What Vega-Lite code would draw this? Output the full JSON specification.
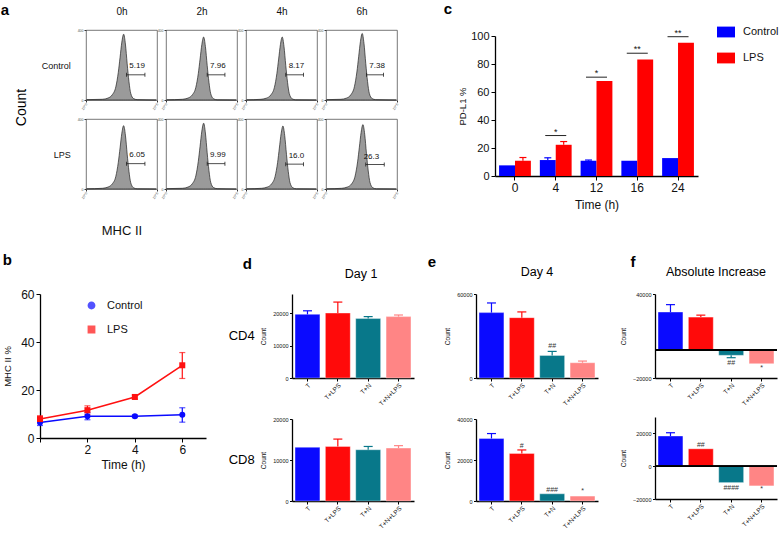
{
"$schema":"https://vega.github.io/schema/vega-lite/v6.json",
"background":"white",
"padding":{"left":0,"top":0,"right":0,"bottom":0},
"datasets":{
"spacer":[{"s":0}],
"hist":[
{"g":"Control","t":"0h","x":1,"y":2},{"g":"Control","t":"0h","x":23,"y":4},{"g":"Control","t":"0h","x":31,"y":11},{"g":"Control","t":"0h","x":37,"y":30},{"g":"Control","t":"0h","x":42,"y":75},{"g":"Control","t":"0h","x":45.5,"y":158},{"g":"Control","t":"0h","x":48,"y":244},{"g":"Control","t":"0h","x":50.5,"y":331},{"g":"Control","t":"0h","x":53,"y":376},{"g":"Control","t":"0h","x":55.5,"y":320},{"g":"Control","t":"0h","x":58,"y":207},{"g":"Control","t":"0h","x":60.5,"y":105},{"g":"Control","t":"0h","x":63,"y":38},{"g":"Control","t":"0h","x":67,"y":8},{"g":"Control","t":"0h","x":72,"y":2},{"g":"Control","t":"0h","x":99,"y":0},
{"g":"Control","t":"2h","x":1,"y":1},{"g":"Control","t":"2h","x":23,"y":4},{"g":"Control","t":"2h","x":31,"y":11},{"g":"Control","t":"2h","x":37,"y":29},{"g":"Control","t":"2h","x":42,"y":72},{"g":"Control","t":"2h","x":45.5,"y":151},{"g":"Control","t":"2h","x":48,"y":234},{"g":"Control","t":"2h","x":50.5,"y":317},{"g":"Control","t":"2h","x":53,"y":360},{"g":"Control","t":"2h","x":55.5,"y":306},{"g":"Control","t":"2h","x":58,"y":198},{"g":"Control","t":"2h","x":60.5,"y":101},{"g":"Control","t":"2h","x":63,"y":36},{"g":"Control","t":"2h","x":67,"y":7},{"g":"Control","t":"2h","x":72,"y":1},{"g":"Control","t":"2h","x":99,"y":0},
{"g":"Control","t":"4h","x":1,"y":1},{"g":"Control","t":"4h","x":21,"y":4},{"g":"Control","t":"4h","x":29,"y":11},{"g":"Control","t":"4h","x":35,"y":29},{"g":"Control","t":"4h","x":40,"y":72},{"g":"Control","t":"4h","x":43.5,"y":151},{"g":"Control","t":"4h","x":46,"y":234},{"g":"Control","t":"4h","x":48.5,"y":317},{"g":"Control","t":"4h","x":51,"y":360},{"g":"Control","t":"4h","x":53.5,"y":306},{"g":"Control","t":"4h","x":56,"y":198},{"g":"Control","t":"4h","x":58.5,"y":101},{"g":"Control","t":"4h","x":61,"y":36},{"g":"Control","t":"4h","x":65,"y":7},{"g":"Control","t":"4h","x":70,"y":1},{"g":"Control","t":"4h","x":99,"y":0},
{"g":"Control","t":"6h","x":1,"y":2},{"g":"Control","t":"6h","x":21,"y":4},{"g":"Control","t":"6h","x":29,"y":11},{"g":"Control","t":"6h","x":35,"y":30},{"g":"Control","t":"6h","x":40,"y":76},{"g":"Control","t":"6h","x":43.5,"y":160},{"g":"Control","t":"6h","x":46,"y":247},{"g":"Control","t":"6h","x":48.5,"y":334},{"g":"Control","t":"6h","x":51,"y":380},{"g":"Control","t":"6h","x":53.5,"y":323},{"g":"Control","t":"6h","x":56,"y":209},{"g":"Control","t":"6h","x":58.5,"y":106},{"g":"Control","t":"6h","x":61,"y":38},{"g":"Control","t":"6h","x":65,"y":8},{"g":"Control","t":"6h","x":70,"y":2},{"g":"Control","t":"6h","x":99,"y":0},
{"g":"LPS","t":"0h","x":1,"y":1},{"g":"LPS","t":"0h","x":23,"y":4},{"g":"LPS","t":"0h","x":31,"y":11},{"g":"LPS","t":"0h","x":37,"y":29},{"g":"LPS","t":"0h","x":42,"y":72},{"g":"LPS","t":"0h","x":45.5,"y":152},{"g":"LPS","t":"0h","x":48,"y":235},{"g":"LPS","t":"0h","x":50.5,"y":319},{"g":"LPS","t":"0h","x":53,"y":362},{"g":"LPS","t":"0h","x":55.5,"y":308},{"g":"LPS","t":"0h","x":58,"y":199},{"g":"LPS","t":"0h","x":60.5,"y":101},{"g":"LPS","t":"0h","x":63,"y":36},{"g":"LPS","t":"0h","x":67,"y":7},{"g":"LPS","t":"0h","x":72,"y":1},{"g":"LPS","t":"0h","x":99,"y":0},
{"g":"LPS","t":"2h","x":1,"y":2},{"g":"LPS","t":"2h","x":23,"y":4},{"g":"LPS","t":"2h","x":31,"y":11},{"g":"LPS","t":"2h","x":37,"y":30},{"g":"LPS","t":"2h","x":42,"y":75},{"g":"LPS","t":"2h","x":45.5,"y":158},{"g":"LPS","t":"2h","x":48,"y":244},{"g":"LPS","t":"2h","x":50.5,"y":331},{"g":"LPS","t":"2h","x":53,"y":376},{"g":"LPS","t":"2h","x":55.5,"y":320},{"g":"LPS","t":"2h","x":58,"y":207},{"g":"LPS","t":"2h","x":60.5,"y":105},{"g":"LPS","t":"2h","x":63,"y":38},{"g":"LPS","t":"2h","x":67,"y":8},{"g":"LPS","t":"2h","x":72,"y":2},{"g":"LPS","t":"2h","x":99,"y":0},
{"g":"LPS","t":"4h","x":1,"y":1},{"g":"LPS","t":"4h","x":22,"y":4},{"g":"LPS","t":"4h","x":30,"y":11},{"g":"LPS","t":"4h","x":36,"y":29},{"g":"LPS","t":"4h","x":41,"y":72},{"g":"LPS","t":"4h","x":44.5,"y":151},{"g":"LPS","t":"4h","x":47,"y":234},{"g":"LPS","t":"4h","x":49.5,"y":317},{"g":"LPS","t":"4h","x":52,"y":360},{"g":"LPS","t":"4h","x":54.5,"y":306},{"g":"LPS","t":"4h","x":57,"y":198},{"g":"LPS","t":"4h","x":59.5,"y":101},{"g":"LPS","t":"4h","x":62,"y":36},{"g":"LPS","t":"4h","x":66,"y":7},{"g":"LPS","t":"4h","x":71,"y":1},{"g":"LPS","t":"4h","x":99,"y":0},
{"g":"LPS","t":"6h","x":1,"y":1},{"g":"LPS","t":"6h","x":22,"y":4},{"g":"LPS","t":"6h","x":30,"y":11},{"g":"LPS","t":"6h","x":36,"y":29},{"g":"LPS","t":"6h","x":41,"y":74},{"g":"LPS","t":"6h","x":44.5,"y":155},{"g":"LPS","t":"6h","x":47,"y":239},{"g":"LPS","t":"6h","x":49.5,"y":324},{"g":"LPS","t":"6h","x":52,"y":368},{"g":"LPS","t":"6h","x":54.5,"y":313},{"g":"LPS","t":"6h","x":57,"y":202},{"g":"LPS","t":"6h","x":59.5,"y":103},{"g":"LPS","t":"6h","x":62,"y":37},{"g":"LPS","t":"6h","x":66,"y":7},{"g":"LPS","t":"6h","x":71,"y":1},{"g":"LPS","t":"6h","x":99,"y":0},
{"g":"Control","t":"0h","x":57,"x2":83,"y":144,"xm":72,"ly":192,"lab":"5.19"},
{"g":"Control","t":"2h","x":58,"x2":83,"y":144,"xm":73,"ly":192,"lab":"7.96"},
{"g":"Control","t":"4h","x":56,"x2":81,"y":144,"xm":71,"ly":192,"lab":"8.17"},
{"g":"Control","t":"6h","x":57,"x2":81,"y":144,"xm":72,"ly":192,"lab":"7.38"},
{"g":"LPS","t":"0h","x":57,"x2":83,"y":145,"xm":72,"ly":192,"lab":"6.05"},
{"g":"LPS","t":"2h","x":58,"x2":83,"y":145,"xm":73,"ly":192,"lab":"9.99"},
{"g":"LPS","t":"4h","x":56,"x2":81,"y":142,"xm":71,"ly":190,"lab":"16.0"},
{"g":"LPS","t":"6h","x":56,"x2":82,"y":140,"xm":64,"ly":184,"lab":"26.3"}
],
"pdl1":[
{"t":0,"grp":"Control","v":7.6},{"t":0,"grp":"LPS","v":10.9,"e":13.2},
{"t":4,"grp":"Control","v":11.4,"e":13.0},{"t":4,"grp":"LPS","v":22.3,"e":24.6},
{"t":12,"grp":"Control","v":10.9,"e":11.4},{"t":12,"grp":"LPS","v":67.8},
{"t":16,"grp":"Control","v":10.9},{"t":16,"grp":"LPS","v":83.2},
{"t":24,"grp":"Control","v":12.8},{"t":24,"grp":"LPS","v":95.2}
],
"pdl1sig":[{"t":4,"y":28.9,"s":"*"},{"t":12,"y":70.6,"s":"*"},{"t":16,"y":87.7,"s":"**"},{"t":24,"y":99.5,"s":"**"}],
"mhc":[
{"t":0,"grp":"Control","v":6.5,"lo":5.2,"hi":7.6},{"t":2,"grp":"Control","v":9.1,"lo":7.6,"hi":10.5},{"t":4,"grp":"Control","v":9.1,"lo":8.5,"hi":9.6},{"t":6,"grp":"Control","v":9.7,"lo":6.6,"hi":12.6},
{"t":0,"grp":"LPS","v":7.9,"lo":6.8,"hi":9.3},{"t":2,"grp":"LPS","v":11.6,"lo":9.8,"hi":13.4},{"t":4,"grp":"LPS","v":17.1,"lo":16.2,"hi":17.9},{"t":6,"grp":"LPS","v":30.3,"lo":24.8,"hi":35.6}
],
"d4":[{"c":"T","v":19700,"e":20800},{"c":"T+LPS","v":20100,"e":23500},{"c":"T+N","v":18400,"e":19000},{"c":"T+N+LPS","v":19000,"e":19500}],
"d8":[{"c":"T","v":13100},{"c":"T+LPS","v":13300,"e":15100},{"c":"T+N","v":12500,"e":13300},{"c":"T+N+LPS","v":12900,"e":13500}],
"e4":[{"c":"T","v":46700,"e":53600},{"c":"T+LPS","v":43100,"e":47200},{"c":"T+N","v":16100,"e":19000,"s":"##","sy":23000},{"c":"T+N+LPS","v":10900,"e":12100}],
"e8":[{"c":"T","v":30500,"e":32900},{"c":"T+LPS","v":23200,"e":24900,"s":"#","sy":27000},{"c":"T+N","v":3500,"s":"###","sy":5600},{"c":"T+N+LPS","v":2400,"s":"*","sy":4800}],
"f4":[{"c":"T","v":27100,"e":32400},{"c":"T+LPS","v":23500,"e":24900},{"c":"T+N","v":-3800,"e":-5500,"s":"##","sy":-9400},{"c":"T+N+LPS","v":-9800,"s":"*","sy":-12700}],
"f8":[{"c":"T","v":18400,"e":20400},{"c":"T+LPS","v":10600,"s":"##","sy":13000},{"c":"T+N","v":-10000,"s":"####","sy":-13000},{"c":"T+N+LPS","v":-12000,"s":"*","sy":-14000}]
},
"resolve":{"scale":{"color":"independent","shape":"independent"},"legend":{"color":"independent","shape":"independent"}},
"columns":1,"spacing":15,
"concat":[
{"resolve":{"scale":{"color":"independent","shape":"independent"},"legend":{"color":"independent","shape":"independent"}},
"columns":2,"spacing":-7,
"concat":[
{"data":{"name":"spacer"},"width":1,"height":1,"mark":{"type":"point","opacity":0},"encoding":{}},
{"columns":2,"spacing":44,
"resolve":{"scale":{"color":"independent","shape":"independent"},"legend":{"color":"independent","shape":"independent"}},
"concat":[
{"spacing":-5,"vconcat":[
{"data":{"name":"spacer"},"width":1,"height":1,"mark":{"type":"point","opacity":0},"encoding":{}},
{
"title":{"text":"a","anchor":"start","fontSize":15,"offset":-12,"dx":-14},
"columns":4,"bounds":"flush","spacing":{"row":19,"column":9},
"concat":[
{"data":{"name":"hist"},"transform":[{"filter":"datum.g == 'Control' && datum.t == '0h'"}],"width":71,"height":70,
"view":{"stroke":"#555","strokeWidth":0.8},
"title":{"text":"Count","orient":"left","anchor":"start","fontSize":14,"fontWeight":"normal","offset":12,"dx":-16},
"resolve":{"axis":{"x":"independent"}},
"layer":[
{"layer":[
{"transform":[{"filter":"datum.lab == null"}],"mark":{"type":"area","interpolate":"monotone","color":"#9a9a9a","stroke":"#222","strokeWidth":0.7},
"encoding":{"x":{"field":"x","type":"quantitative","scale":{"domain":[0,100]},"axis":{"title":null,"values":[0,20,40,60,80,100],"labelExpr":"'10^' + round(datum.value/20)","labelFontSize":3.5,"labelAngle":-60,"tickSize":2,"domain":false,"labelPadding":1,"tickColor":"#333","labelColor":"#555"}},
"y":{"field":"y","type":"quantitative","scale":{"domain":[0,400]},"axis":{"title":"Control","titleAngle":0,"titleAlign":"right","titleBaseline":"middle","titleFontSize":9,"titlePadding":7,"values":[0,100,200,300,400],"labelFontSize":3.5,"tickSize":2,"domain":false,"labelPadding":1,"minExtent":0,"tickColor":"#333","labelColor":"#555"}}}},
{"transform":[{"filter":"datum.lab != null"}],"mark":{"type":"rule","color":"#222","strokeWidth":0.8},"encoding":{"x":{"field":"x","type":"quantitative"},"x2":{"field":"x2"},"y":{"field":"y","type":"quantitative"}}},
{"transform":[{"filter":"datum.lab != null"}],"mark":{"type":"tick","orient":"vertical","size":4,"thickness":0.8,"color":"#222","opacity":1},"encoding":{"x":{"field":"x","type":"quantitative"},"y":{"field":"y","type":"quantitative"}}},
{"transform":[{"filter":"datum.lab != null"}],"mark":{"type":"tick","orient":"vertical","size":4,"thickness":0.8,"color":"#222","opacity":1},"encoding":{"x":{"field":"x2","type":"quantitative"},"y":{"field":"y","type":"quantitative"}}}
]},
{"transform":[{"filter":"datum.lab != null"}],"mark":{"type":"text","fontSize":8,"color":"#111"},"encoding":{"x":{"field":"xm","type":"quantitative","axis":{"orient":"top","title":"0h","labels":false,"ticks":false,"domain":false,"titleFontSize":10,"titleFontWeight":"normal","titlePadding":14}},"y":{"field":"ly","type":"quantitative"},"text":{"field":"lab"}}}
]},
{"data":{"name":"hist"},"transform":[{"filter":"datum.g == 'Control' && datum.t == '2h'"}],"width":71,"height":70,
"view":{"stroke":"#555","strokeWidth":0.8},
"resolve":{"axis":{"x":"independent"}},
"layer":[
{"layer":[
{"transform":[{"filter":"datum.lab == null"}],"mark":{"type":"area","interpolate":"monotone","color":"#9a9a9a","stroke":"#222","strokeWidth":0.7},
"encoding":{"x":{"field":"x","type":"quantitative","scale":{"domain":[0,100]},"axis":{"title":null,"values":[0,20,40,60,80,100],"labelExpr":"'10^' + round(datum.value/20)","labelFontSize":3.5,"labelAngle":-60,"tickSize":2,"domain":false,"labelPadding":1,"tickColor":"#333","labelColor":"#555"}},
"y":{"field":"y","type":"quantitative","scale":{"domain":[0,400]},"axis":{"title":null,"values":[0,100,200,300,400],"labelFontSize":3.5,"tickSize":2,"domain":false,"labelPadding":1,"minExtent":0,"tickColor":"#333","labelColor":"#555"}}}},
{"transform":[{"filter":"datum.lab != null"}],"mark":{"type":"rule","color":"#222","strokeWidth":0.8},"encoding":{"x":{"field":"x","type":"quantitative"},"x2":{"field":"x2"},"y":{"field":"y","type":"quantitative"}}},
{"transform":[{"filter":"datum.lab != null"}],"mark":{"type":"tick","orient":"vertical","size":4,"thickness":0.8,"color":"#222","opacity":1},"encoding":{"x":{"field":"x","type":"quantitative"},"y":{"field":"y","type":"quantitative"}}},
{"transform":[{"filter":"datum.lab != null"}],"mark":{"type":"tick","orient":"vertical","size":4,"thickness":0.8,"color":"#222","opacity":1},"encoding":{"x":{"field":"x2","type":"quantitative"},"y":{"field":"y","type":"quantitative"}}}
]},
{"transform":[{"filter":"datum.lab != null"}],"mark":{"type":"text","fontSize":8,"color":"#111"},"encoding":{"x":{"field":"xm","type":"quantitative","axis":{"orient":"top","title":"2h","labels":false,"ticks":false,"domain":false,"titleFontSize":10,"titleFontWeight":"normal","titlePadding":14}},"y":{"field":"ly","type":"quantitative"},"text":{"field":"lab"}}}
]},
{"data":{"name":"hist"},"transform":[{"filter":"datum.g == 'Control' && datum.t == '4h'"}],"width":71,"height":70,
"view":{"stroke":"#555","strokeWidth":0.8},
"resolve":{"axis":{"x":"independent"}},
"layer":[
{"layer":[
{"transform":[{"filter":"datum.lab == null"}],"mark":{"type":"area","interpolate":"monotone","color":"#9a9a9a","stroke":"#222","strokeWidth":0.7},
"encoding":{"x":{"field":"x","type":"quantitative","scale":{"domain":[0,100]},"axis":{"title":null,"values":[0,20,40,60,80,100],"labelExpr":"'10^' + round(datum.value/20)","labelFontSize":3.5,"labelAngle":-60,"tickSize":2,"domain":false,"labelPadding":1,"tickColor":"#333","labelColor":"#555"}},
"y":{"field":"y","type":"quantitative","scale":{"domain":[0,400]},"axis":{"title":null,"values":[0,100,200,300,400],"labelFontSize":3.5,"tickSize":2,"domain":false,"labelPadding":1,"minExtent":0,"tickColor":"#333","labelColor":"#555"}}}},
{"transform":[{"filter":"datum.lab != null"}],"mark":{"type":"rule","color":"#222","strokeWidth":0.8},"encoding":{"x":{"field":"x","type":"quantitative"},"x2":{"field":"x2"},"y":{"field":"y","type":"quantitative"}}},
{"transform":[{"filter":"datum.lab != null"}],"mark":{"type":"tick","orient":"vertical","size":4,"thickness":0.8,"color":"#222","opacity":1},"encoding":{"x":{"field":"x","type":"quantitative"},"y":{"field":"y","type":"quantitative"}}},
{"transform":[{"filter":"datum.lab != null"}],"mark":{"type":"tick","orient":"vertical","size":4,"thickness":0.8,"color":"#222","opacity":1},"encoding":{"x":{"field":"x2","type":"quantitative"},"y":{"field":"y","type":"quantitative"}}}
]},
{"transform":[{"filter":"datum.lab != null"}],"mark":{"type":"text","fontSize":8,"color":"#111"},"encoding":{"x":{"field":"xm","type":"quantitative","axis":{"orient":"top","title":"4h","labels":false,"ticks":false,"domain":false,"titleFontSize":10,"titleFontWeight":"normal","titlePadding":14}},"y":{"field":"ly","type":"quantitative"},"text":{"field":"lab"}}}
]},
{"data":{"name":"hist"},"transform":[{"filter":"datum.g == 'Control' && datum.t == '6h'"}],"width":71,"height":70,
"view":{"stroke":"#555","strokeWidth":0.8},
"resolve":{"axis":{"x":"independent"}},
"layer":[
{"layer":[
{"transform":[{"filter":"datum.lab == null"}],"mark":{"type":"area","interpolate":"monotone","color":"#9a9a9a","stroke":"#222","strokeWidth":0.7},
"encoding":{"x":{"field":"x","type":"quantitative","scale":{"domain":[0,100]},"axis":{"title":null,"values":[0,20,40,60,80,100],"labelExpr":"'10^' + round(datum.value/20)","labelFontSize":3.5,"labelAngle":-60,"tickSize":2,"domain":false,"labelPadding":1,"tickColor":"#333","labelColor":"#555"}},
"y":{"field":"y","type":"quantitative","scale":{"domain":[0,400]},"axis":{"title":null,"values":[0,100,200,300,400],"labelFontSize":3.5,"tickSize":2,"domain":false,"labelPadding":1,"minExtent":0,"tickColor":"#333","labelColor":"#555"}}}},
{"transform":[{"filter":"datum.lab != null"}],"mark":{"type":"rule","color":"#222","strokeWidth":0.8},"encoding":{"x":{"field":"x","type":"quantitative"},"x2":{"field":"x2"},"y":{"field":"y","type":"quantitative"}}},
{"transform":[{"filter":"datum.lab != null"}],"mark":{"type":"tick","orient":"vertical","size":4,"thickness":0.8,"color":"#222","opacity":1},"encoding":{"x":{"field":"x","type":"quantitative"},"y":{"field":"y","type":"quantitative"}}},
{"transform":[{"filter":"datum.lab != null"}],"mark":{"type":"tick","orient":"vertical","size":4,"thickness":0.8,"color":"#222","opacity":1},"encoding":{"x":{"field":"x2","type":"quantitative"},"y":{"field":"y","type":"quantitative"}}}
]},
{"transform":[{"filter":"datum.lab != null"}],"mark":{"type":"text","fontSize":8,"color":"#111"},"encoding":{"x":{"field":"xm","type":"quantitative","axis":{"orient":"top","title":"6h","labels":false,"ticks":false,"domain":false,"titleFontSize":10,"titleFontWeight":"normal","titlePadding":14}},"y":{"field":"ly","type":"quantitative"},"text":{"field":"lab"}}}
]},
{"data":{"name":"hist"},"transform":[{"filter":"datum.g == 'LPS' && datum.t == '0h'"}],"width":71,"height":70,
"view":{"stroke":"#555","strokeWidth":0.8},
"layer":[
{"transform":[{"filter":"datum.lab == null"}],"mark":{"type":"area","interpolate":"monotone","color":"#9a9a9a","stroke":"#222","strokeWidth":0.7},
"encoding":{"x":{"field":"x","type":"quantitative","scale":{"domain":[0,100]},"axis":{"title":"MHC II","titleFontSize":13,"titleFontWeight":"normal","titlePadding":25,"values":[0,20,40,60,80,100],"labelExpr":"'10^' + round(datum.value/20)","labelFontSize":3.5,"labelAngle":-60,"tickSize":2,"domain":false,"labelPadding":1,"tickColor":"#333","labelColor":"#555"}},
"y":{"field":"y","type":"quantitative","scale":{"domain":[0,400]},"axis":{"title":"LPS","titleAngle":0,"titleAlign":"right","titleBaseline":"middle","titleFontSize":9,"titlePadding":7,"values":[0,100,200,300,400],"labelFontSize":3.5,"tickSize":2,"domain":false,"labelPadding":1,"minExtent":0,"tickColor":"#333","labelColor":"#555"}}}},
{"transform":[{"filter":"datum.lab != null"}],"mark":{"type":"rule","color":"#222","strokeWidth":0.8},"encoding":{"x":{"field":"x","type":"quantitative"},"x2":{"field":"x2"},"y":{"field":"y","type":"quantitative"}}},
{"transform":[{"filter":"datum.lab != null"}],"mark":{"type":"tick","orient":"vertical","size":4,"thickness":0.8,"color":"#222","opacity":1},"encoding":{"x":{"field":"x","type":"quantitative"},"y":{"field":"y","type":"quantitative"}}},
{"transform":[{"filter":"datum.lab != null"}],"mark":{"type":"tick","orient":"vertical","size":4,"thickness":0.8,"color":"#222","opacity":1},"encoding":{"x":{"field":"x2","type":"quantitative"},"y":{"field":"y","type":"quantitative"}}},
{"transform":[{"filter":"datum.lab != null"}],"mark":{"type":"text","fontSize":8,"color":"#111"},"encoding":{"x":{"field":"xm","type":"quantitative"},"y":{"field":"ly","type":"quantitative"},"text":{"field":"lab"}}}
]},
{"data":{"name":"hist"},"transform":[{"filter":"datum.g == 'LPS' && datum.t == '2h'"}],"width":71,"height":70,
"view":{"stroke":"#555","strokeWidth":0.8},
"layer":[
{"transform":[{"filter":"datum.lab == null"}],"mark":{"type":"area","interpolate":"monotone","color":"#9a9a9a","stroke":"#222","strokeWidth":0.7},
"encoding":{"x":{"field":"x","type":"quantitative","scale":{"domain":[0,100]},"axis":{"title":null,"values":[0,20,40,60,80,100],"labelExpr":"'10^' + round(datum.value/20)","labelFontSize":3.5,"labelAngle":-60,"tickSize":2,"domain":false,"labelPadding":1,"tickColor":"#333","labelColor":"#555"}},
"y":{"field":"y","type":"quantitative","scale":{"domain":[0,400]},"axis":{"title":null,"values":[0,100,200,300,400],"labelFontSize":3.5,"tickSize":2,"domain":false,"labelPadding":1,"minExtent":0,"tickColor":"#333","labelColor":"#555"}}}},
{"transform":[{"filter":"datum.lab != null"}],"mark":{"type":"rule","color":"#222","strokeWidth":0.8},"encoding":{"x":{"field":"x","type":"quantitative"},"x2":{"field":"x2"},"y":{"field":"y","type":"quantitative"}}},
{"transform":[{"filter":"datum.lab != null"}],"mark":{"type":"tick","orient":"vertical","size":4,"thickness":0.8,"color":"#222","opacity":1},"encoding":{"x":{"field":"x","type":"quantitative"},"y":{"field":"y","type":"quantitative"}}},
{"transform":[{"filter":"datum.lab != null"}],"mark":{"type":"tick","orient":"vertical","size":4,"thickness":0.8,"color":"#222","opacity":1},"encoding":{"x":{"field":"x2","type":"quantitative"},"y":{"field":"y","type":"quantitative"}}},
{"transform":[{"filter":"datum.lab != null"}],"mark":{"type":"text","fontSize":8,"color":"#111"},"encoding":{"x":{"field":"xm","type":"quantitative"},"y":{"field":"ly","type":"quantitative"},"text":{"field":"lab"}}}
]},
{"data":{"name":"hist"},"transform":[{"filter":"datum.g == 'LPS' && datum.t == '4h'"}],"width":71,"height":70,
"view":{"stroke":"#555","strokeWidth":0.8},
"layer":[
{"transform":[{"filter":"datum.lab == null"}],"mark":{"type":"area","interpolate":"monotone","color":"#9a9a9a","stroke":"#222","strokeWidth":0.7},
"encoding":{"x":{"field":"x","type":"quantitative","scale":{"domain":[0,100]},"axis":{"title":null,"values":[0,20,40,60,80,100],"labelExpr":"'10^' + round(datum.value/20)","labelFontSize":3.5,"labelAngle":-60,"tickSize":2,"domain":false,"labelPadding":1,"tickColor":"#333","labelColor":"#555"}},
"y":{"field":"y","type":"quantitative","scale":{"domain":[0,400]},"axis":{"title":null,"values":[0,100,200,300,400],"labelFontSize":3.5,"tickSize":2,"domain":false,"labelPadding":1,"minExtent":0,"tickColor":"#333","labelColor":"#555"}}}},
{"transform":[{"filter":"datum.lab != null"}],"mark":{"type":"rule","color":"#222","strokeWidth":0.8},"encoding":{"x":{"field":"x","type":"quantitative"},"x2":{"field":"x2"},"y":{"field":"y","type":"quantitative"}}},
{"transform":[{"filter":"datum.lab != null"}],"mark":{"type":"tick","orient":"vertical","size":4,"thickness":0.8,"color":"#222","opacity":1},"encoding":{"x":{"field":"x","type":"quantitative"},"y":{"field":"y","type":"quantitative"}}},
{"transform":[{"filter":"datum.lab != null"}],"mark":{"type":"tick","orient":"vertical","size":4,"thickness":0.8,"color":"#222","opacity":1},"encoding":{"x":{"field":"x2","type":"quantitative"},"y":{"field":"y","type":"quantitative"}}},
{"transform":[{"filter":"datum.lab != null"}],"mark":{"type":"text","fontSize":8,"color":"#111"},"encoding":{"x":{"field":"xm","type":"quantitative"},"y":{"field":"ly","type":"quantitative"},"text":{"field":"lab"}}}
]},
{"data":{"name":"hist"},"transform":[{"filter":"datum.g == 'LPS' && datum.t == '6h'"}],"width":71,"height":70,
"view":{"stroke":"#555","strokeWidth":0.8},
"layer":[
{"transform":[{"filter":"datum.lab == null"}],"mark":{"type":"area","interpolate":"monotone","color":"#9a9a9a","stroke":"#222","strokeWidth":0.7},
"encoding":{"x":{"field":"x","type":"quantitative","scale":{"domain":[0,100]},"axis":{"title":null,"values":[0,20,40,60,80,100],"labelExpr":"'10^' + round(datum.value/20)","labelFontSize":3.5,"labelAngle":-60,"tickSize":2,"domain":false,"labelPadding":1,"tickColor":"#333","labelColor":"#555"}},
"y":{"field":"y","type":"quantitative","scale":{"domain":[0,400]},"axis":{"title":null,"values":[0,100,200,300,400],"labelFontSize":3.5,"tickSize":2,"domain":false,"labelPadding":1,"minExtent":0,"tickColor":"#333","labelColor":"#555"}}}},
{"transform":[{"filter":"datum.lab != null"}],"mark":{"type":"rule","color":"#222","strokeWidth":0.8},"encoding":{"x":{"field":"x","type":"quantitative"},"x2":{"field":"x2"},"y":{"field":"y","type":"quantitative"}}},
{"transform":[{"filter":"datum.lab != null"}],"mark":{"type":"tick","orient":"vertical","size":4,"thickness":0.8,"color":"#222","opacity":1},"encoding":{"x":{"field":"x","type":"quantitative"},"y":{"field":"y","type":"quantitative"}}},
{"transform":[{"filter":"datum.lab != null"}],"mark":{"type":"tick","orient":"vertical","size":4,"thickness":0.8,"color":"#222","opacity":1},"encoding":{"x":{"field":"x2","type":"quantitative"},"y":{"field":"y","type":"quantitative"}}},
{"transform":[{"filter":"datum.lab != null"}],"mark":{"type":"text","fontSize":8,"color":"#111"},"encoding":{"x":{"field":"xm","type":"quantitative"},"y":{"field":"ly","type":"quantitative"},"text":{"field":"lab"}}}
]}
]
}
]},
{"spacing":-5,
"resolve":{"scale":{"color":"independent","shape":"independent"},"legend":{"color":"independent","shape":"independent"}},
"vconcat":[
{"data":{"name":"spacer"},"width":1,"height":1,"mark":{"type":"point","opacity":0},"encoding":{}},
{
"title":{"text":"c","anchor":"start","fontSize":15,"offset":6,"dx":-14},
"width":203,"height":140,
"layer":[
{"data":{"name":"pdl1"},
"mark":{"type":"bar"},
"encoding":{
"x":{"field":"t","type":"ordinal","sort":[0,4,12,16,24],"scale":{"paddingInner":0.22,"paddingOuter":0.1},"axis":{"title":"Time (h)","labelAngle":0,"labelFontSize":12,"titleFontSize":12,"tickSize":4,"domainWidth":1.3,"titlePadding":6}},
"xOffset":{"field":"grp","type":"nominal","sort":["Control","LPS"]},
"y":{"field":"v","type":"quantitative","scale":{"domain":[0,100]},"axis":{"title":"PD-L1 %","values":[0,20,40,60,80,100],"labelOverlap":false,"labelFontSize":11,"titleFontSize":9.5,"tickSize":4,"domainWidth":1.3,"titlePadding":3,"minExtent":0}},
"color":{"field":"grp","type":"nominal","scale":{"domain":["Control","LPS"],"range":["#0000ff","#ff0000"]},"legend":{"title":null,"orient":"none","legendX":222,"legendY":-13,"symbolType":"M-1,-0.6H1V0.6H-1Z","symbolSize":324,"labelFontSize":11,"rowPadding":11,"labelOffset":8,"symbolStrokeWidth":0,"symbolOpacity":1}}
}},
{"data":{"name":"pdl1"},"transform":[{"filter":"datum.e != null"}],
"mark":{"type":"rule","strokeWidth":1.2},
"encoding":{"x":{"field":"t","type":"ordinal","sort":[0,4,12,16,24],"axis":{"title":"Time (h)","labelAngle":0,"labelFontSize":12,"titleFontSize":12,"tickSize":4,"domainWidth":1.3,"titlePadding":6}},"xOffset":{"field":"grp","type":"nominal","sort":["Control","LPS"]},"y":{"field":"v","type":"quantitative","axis":{"title":"PD-L1 %","values":[0,20,40,60,80,100],"labelOverlap":false,"labelFontSize":11,"titleFontSize":9.5,"tickSize":4,"domainWidth":1.3,"titlePadding":3,"minExtent":0}},"y2":{"field":"e"},"color":{"field":"grp","type":"nominal"}}},
{"data":{"name":"pdl1"},"transform":[{"filter":"datum.e != null"}],
"mark":{"type":"tick","size":7,"thickness":1.2,"opacity":1},
"encoding":{"x":{"field":"t","type":"ordinal","sort":[0,4,12,16,24],"axis":{"title":"Time (h)","labelAngle":0,"labelFontSize":12,"titleFontSize":12,"tickSize":4,"domainWidth":1.3,"titlePadding":6}},"xOffset":{"field":"grp","type":"nominal","sort":["Control","LPS"]},"y":{"field":"e","type":"quantitative","axis":{"title":"PD-L1 %","values":[0,20,40,60,80,100],"labelOverlap":false,"labelFontSize":11,"titleFontSize":9.5,"tickSize":4,"domainWidth":1.3,"titlePadding":3,"minExtent":0}},"color":{"field":"grp","type":"nominal"}}},
{"data":{"name":"pdl1sig"},
"mark":{"type":"tick","size":21,"thickness":1,"color":"#222","opacity":1},
"encoding":{"x":{"field":"t","type":"ordinal","sort":[0,4,12,16,24],"axis":{"title":"Time (h)","labelAngle":0,"labelFontSize":12,"titleFontSize":12,"tickSize":4,"domainWidth":1.3,"titlePadding":6}},"y":{"field":"y","type":"quantitative","axis":{"title":"PD-L1 %","values":[0,20,40,60,80,100],"labelOverlap":false,"labelFontSize":11,"titleFontSize":9.5,"tickSize":4,"domainWidth":1.3,"titlePadding":3,"minExtent":0}}}},
{"data":{"name":"pdl1sig"},
"mark":{"type":"text","fontSize":9,"baseline":"bottom","dy":1,"color":"#111"},
"encoding":{"x":{"field":"t","type":"ordinal","sort":[0,4,12,16,24],"axis":{"title":"Time (h)","labelAngle":0,"labelFontSize":12,"titleFontSize":12,"tickSize":4,"domainWidth":1.3,"titlePadding":6}},"y":{"field":"y","type":"quantitative","axis":{"title":"PD-L1 %","values":[0,20,40,60,80,100],"labelOverlap":false,"labelFontSize":11,"titleFontSize":9.5,"tickSize":4,"domainWidth":1.3,"titlePadding":3,"minExtent":0}},"text":{"field":"s"}}}
]
}
]}
]}
]},
{"resolve":{"scale":{"color":"independent","shape":"independent"},"legend":{"color":"independent","shape":"independent"}},
"columns":2,"spacing":-5,
"concat":[
{"data":{"name":"spacer"},"width":1,"height":1,"mark":{"type":"point","opacity":0},"encoding":{}},
{"columns":2,"spacing":22,
"resolve":{"scale":{"color":"independent","shape":"independent"},"legend":{"color":"independent","shape":"independent"}},
"concat":[
{
"data":{"name":"mhc"},
"title":{"text":"b","anchor":"start","fontSize":15,"offset":20},
"width":166,"height":144,
"layer":[
{"mark":{"type":"line","strokeWidth":1.5},
"encoding":{
"x":{"field":"t","type":"quantitative","scale":{"domain":[0,7]},"axis":{"title":"Time (h)","values":[0,2,4,6],"labelExpr":"datum.value == 0 ? '' : datum.label","labelFontSize":12,"titleFontSize":12,"tickSize":4,"domainWidth":1.3,"titlePadding":4}},
"y":{"field":"v","type":"quantitative","scale":{"domain":[0,60]},"axis":{"title":"MHC II %","values":[0,20,40,60],"labelFontSize":12,"titleFontSize":9.5,"tickSize":4,"domainWidth":1.3,"titlePadding":8,"minExtent":0}},
"color":{"field":"grp","type":"nominal","scale":{"domain":["Control","LPS"],"range":["#0a0aff","#ff1010"]}}
}},
{"mark":{"type":"errorbar","ticks":{"size":6},"thickness":1.2},
"encoding":{"x":{"field":"t","type":"quantitative"},"y":{"field":"lo","type":"quantitative","title":"MHC II %"},"y2":{"field":"hi"},"color":{"field":"grp","type":"nominal"}}},
{"mark":{"type":"point","filled":true,"opacity":1,"size":36},
"encoding":{"x":{"field":"t","type":"quantitative"},"y":{"field":"v","type":"quantitative"},
"color":{"field":"grp","type":"nominal","legend":{"title":null,"orient":"none","legendX":46,"legendY":6,"labelFontSize":11,"rowPadding":11,"symbolSize":40,"labelOffset":10}},
"shape":{"field":"grp","type":"nominal","scale":{"domain":["Control","LPS"],"range":["circle","square"]},"legend":{"title":null,"orient":"none","legendX":46,"legendY":6,"labelFontSize":11,"rowPadding":11,"symbolSize":40,"labelOffset":10}}}}
]
},
{"columns":2,"spacing":13,
"concat":[
{
"title":{"text":"d","anchor":"start","fontSize":15,"offset":-4,"dx":14},
"spacing":10,
"vconcat":[
{"title":{"text":"Day 1","anchor":"start","dx":116,"fontSize":12.5,"fontWeight":"normal","offset":14},
"vconcat":[
{"data":{"name":"d4"},"width":122,"height":84,
"title":{"text":"CD4","orient":"left","angle":0,"align":"right","baseline":"middle","fontSize":13,"fontWeight":"normal","offset":-20},
"layer":[
{"mark":{"type":"bar","stroke":"white","strokeOpacity":0.35,"strokeWidth":1},
"encoding":{
"x":{"field":"c","type":"nominal","sort":["T","T+LPS","T+N","T+N+LPS"],"scale":{"paddingInner":0.18,"paddingOuter":0.1},"axis":{"title":null,"labelAngle":-45,"labelFontSize":6.5,"tickSize":3,"domainWidth":1.5,"labelPadding":1}},
"y":{"field":"v","type":"quantitative","scale":{"domain":[0,25000]},"axis":{"title":"Count","values":[0,5000,10000,15000,20000,25000],"format":"d","labelFontSize":5.5,"titleFontSize":6.5,"tickSize":2.5,"domainWidth":1.3,"titlePadding":6,"labelPadding":1.5,"minExtent":0}},
"color":{"field":"c","type":"nominal","scale":{"domain":["T","T+LPS","T+N","T+N+LPS"],"range":["#0a0aff","#ff0a0a","#08788a","#ff8585"]},"legend":null}}},
{"transform":[{"filter":"datum.e != null"}],"mark":{"type":"rule","strokeWidth":1.2},
"encoding":{"x":{"field":"c","type":"nominal","sort":["T","T+LPS","T+N","T+N+LPS"]},"y":{"field":"v","type":"quantitative"},"y2":{"field":"e"},"color":{"field":"c","type":"nominal"}}},
{"transform":[{"filter":"datum.e != null"}],"mark":{"type":"tick","size":9,"thickness":1.2,"opacity":1},
"encoding":{"x":{"field":"c","type":"nominal","sort":["T","T+LPS","T+N","T+N+LPS"]},"y":{"field":"e","type":"quantitative"},"color":{"field":"c","type":"nominal"}}}
]}
]},
{"data":{"name":"d8"},"width":122,"height":82,
"title":{"text":"CD8","orient":"left","angle":0,"align":"right","baseline":"middle","fontSize":13,"fontWeight":"normal","offset":-20},
"layer":[
{"mark":{"type":"bar","stroke":"white","strokeOpacity":0.35,"strokeWidth":1},
"encoding":{
"x":{"field":"c","type":"nominal","sort":["T","T+LPS","T+N","T+N+LPS"],"scale":{"paddingInner":0.18,"paddingOuter":0.1},"axis":{"title":null,"labelAngle":-45,"labelFontSize":6.5,"tickSize":3,"domainWidth":1.5,"labelPadding":1}},
"y":{"field":"v","type":"quantitative","scale":{"domain":[0,20000]},"axis":{"title":"Count","values":[0,5000,10000,15000,20000],"format":"d","labelFontSize":5.5,"titleFontSize":6.5,"tickSize":2.5,"domainWidth":1.3,"titlePadding":6,"labelPadding":1.5,"minExtent":0}},
"color":{"field":"c","type":"nominal","scale":{"domain":["T","T+LPS","T+N","T+N+LPS"],"range":["#0a0aff","#ff0a0a","#08788a","#ff8585"]},"legend":null}}},
{"transform":[{"filter":"datum.e != null"}],"mark":{"type":"rule","strokeWidth":1.2},
"encoding":{"x":{"field":"c","type":"nominal","sort":["T","T+LPS","T+N","T+N+LPS"]},"y":{"field":"v","type":"quantitative"},"y2":{"field":"e"},"color":{"field":"c","type":"nominal"}}},
{"transform":[{"filter":"datum.e != null"}],"mark":{"type":"tick","size":9,"thickness":1.2,"opacity":1},
"encoding":{"x":{"field":"c","type":"nominal","sort":["T","T+LPS","T+N","T+N+LPS"]},"y":{"field":"e","type":"quantitative"},"color":{"field":"c","type":"nominal"}}}
]}
]
},
{"columns":2,"spacing":22,
"concat":[
{
"title":{"text":"e","anchor":"start","fontSize":15,"offset":-4,"dx":-17},
"spacing":10,
"vconcat":[
{"data":{"name":"e4"},"width":122,"height":84,
"title":{"text":"Day 4","anchor":"middle","frame":"group","fontSize":12.5,"fontWeight":"normal","offset":14},
"layer":[
{"mark":{"type":"bar","stroke":"white","strokeOpacity":0.35,"strokeWidth":1},
"encoding":{
"x":{"field":"c","type":"nominal","sort":["T","T+LPS","T+N","T+N+LPS"],"scale":{"paddingInner":0.18,"paddingOuter":0.1},"axis":{"title":null,"labelAngle":-45,"labelFontSize":6.5,"tickSize":3,"domainWidth":1.5,"labelPadding":1}},
"y":{"field":"v","type":"quantitative","scale":{"domain":[0,60000]},"axis":{"title":"Count","values":[0,20000,40000,60000],"format":"d","labelFontSize":5.5,"titleFontSize":6.5,"tickSize":2.5,"domainWidth":1.3,"titlePadding":6,"labelPadding":1.5,"minExtent":0}},
"color":{"field":"c","type":"nominal","scale":{"domain":["T","T+LPS","T+N","T+N+LPS"],"range":["#0a0aff","#ff0a0a","#08788a","#ff8585"]},"legend":null}}},
{"transform":[{"filter":"datum.e != null"}],"mark":{"type":"rule","strokeWidth":1.2},
"encoding":{"x":{"field":"c","type":"nominal","sort":["T","T+LPS","T+N","T+N+LPS"]},"y":{"field":"v","type":"quantitative"},"y2":{"field":"e"},"color":{"field":"c","type":"nominal"}}},
{"transform":[{"filter":"datum.e != null"}],"mark":{"type":"tick","size":9,"thickness":1.2,"opacity":1},
"encoding":{"x":{"field":"c","type":"nominal","sort":["T","T+LPS","T+N","T+N+LPS"]},"y":{"field":"e","type":"quantitative"},"color":{"field":"c","type":"nominal"}}},
{"transform":[{"filter":"datum.s != null"}],"mark":{"type":"text","fontSize":7,"color":"#333"},
"encoding":{"x":{"field":"c","type":"nominal","sort":["T","T+LPS","T+N","T+N+LPS"]},"y":{"field":"sy","type":"quantitative"},"text":{"field":"s"}}}
]},
{"data":{"name":"e8"},"width":122,"height":82,
"layer":[
{"mark":{"type":"bar","stroke":"white","strokeOpacity":0.35,"strokeWidth":1},
"encoding":{
"x":{"field":"c","type":"nominal","sort":["T","T+LPS","T+N","T+N+LPS"],"scale":{"paddingInner":0.18,"paddingOuter":0.1},"axis":{"title":null,"labelAngle":-45,"labelFontSize":6.5,"tickSize":3,"domainWidth":1.5,"labelPadding":1}},
"y":{"field":"v","type":"quantitative","scale":{"domain":[0,40000]},"axis":{"title":"Count","values":[0,10000,20000,30000,40000],"format":"d","labelFontSize":5.5,"titleFontSize":6.5,"tickSize":2.5,"domainWidth":1.3,"titlePadding":6,"labelPadding":1.5,"minExtent":0}},
"color":{"field":"c","type":"nominal","scale":{"domain":["T","T+LPS","T+N","T+N+LPS"],"range":["#0a0aff","#ff0a0a","#08788a","#ff8585"]},"legend":null}}},
{"transform":[{"filter":"datum.e != null"}],"mark":{"type":"rule","strokeWidth":1.2},
"encoding":{"x":{"field":"c","type":"nominal","sort":["T","T+LPS","T+N","T+N+LPS"]},"y":{"field":"v","type":"quantitative"},"y2":{"field":"e"},"color":{"field":"c","type":"nominal"}}},
{"transform":[{"filter":"datum.e != null"}],"mark":{"type":"tick","size":9,"thickness":1.2,"opacity":1},
"encoding":{"x":{"field":"c","type":"nominal","sort":["T","T+LPS","T+N","T+N+LPS"]},"y":{"field":"e","type":"quantitative"},"color":{"field":"c","type":"nominal"}}},
{"transform":[{"filter":"datum.s != null"}],"mark":{"type":"text","fontSize":7,"color":"#333"},
"encoding":{"x":{"field":"c","type":"nominal","sort":["T","T+LPS","T+N","T+N+LPS"]},"y":{"field":"sy","type":"quantitative"},"text":{"field":"s"}}}
]}
]
},
{
"title":{"text":"f","anchor":"start","fontSize":15,"offset":-4,"dx":10},
"spacing":10,
"vconcat":[
{"data":{"name":"f4"},"width":122,"height":84,
"title":{"text":"Absolute Increase","anchor":"middle","frame":"group","fontSize":12.5,"fontWeight":"normal","offset":14},
"layer":[
{"mark":{"type":"bar","stroke":"white","strokeOpacity":0.35,"strokeWidth":1},
"encoding":{
"x":{"field":"c","type":"nominal","sort":["T","T+LPS","T+N","T+N+LPS"],"scale":{"paddingInner":0.18,"paddingOuter":0.1},"axis":{"title":null,"labelAngle":-45,"labelFontSize":6.5,"tickSize":3,"domainWidth":1.5,"labelPadding":1}},
"y":{"field":"v","type":"quantitative","scale":{"domain":[-20000,40000]},"axis":{"title":"Count","values":[-20000,-10000,0,10000,20000,30000,40000],"format":"d","labelFontSize":5.5,"titleFontSize":6.5,"tickSize":2.5,"domainWidth":1.3,"titlePadding":6,"labelPadding":1.5,"minExtent":0}},
"color":{"field":"c","type":"nominal","scale":{"domain":["T","T+LPS","T+N","T+N+LPS"],"range":["#0a0aff","#ff0a0a","#08788a","#ff8585"]},"legend":null}}},
{"transform":[{"filter":"datum.e != null"}],"mark":{"type":"rule","strokeWidth":1.2},
"encoding":{"x":{"field":"c","type":"nominal","sort":["T","T+LPS","T+N","T+N+LPS"]},"y":{"field":"v","type":"quantitative"},"y2":{"field":"e"},"color":{"field":"c","type":"nominal"}}},
{"transform":[{"filter":"datum.e != null"}],"mark":{"type":"tick","size":9,"thickness":1.2,"opacity":1},
"encoding":{"x":{"field":"c","type":"nominal","sort":["T","T+LPS","T+N","T+N+LPS"]},"y":{"field":"e","type":"quantitative"},"color":{"field":"c","type":"nominal"}}},
{"mark":{"type":"rule","strokeWidth":1.5,"color":"#000"},"encoding":{"y":{"datum":0}}},
{"transform":[{"filter":"datum.s != null"}],"mark":{"type":"text","fontSize":7,"color":"#333"},
"encoding":{"x":{"field":"c","type":"nominal","sort":["T","T+LPS","T+N","T+N+LPS"]},"y":{"field":"sy","type":"quantitative"},"text":{"field":"s"}}}
]},
{"data":{"name":"f8"},"width":122,"height":82,
"layer":[
{"mark":{"type":"bar","stroke":"white","strokeOpacity":0.35,"strokeWidth":1},
"encoding":{
"x":{"field":"c","type":"nominal","sort":["T","T+LPS","T+N","T+N+LPS"],"scale":{"paddingInner":0.18,"paddingOuter":0.1},"axis":{"title":null,"labelAngle":-45,"labelFontSize":6.5,"tickSize":3,"domainWidth":1.5,"labelPadding":1}},
"y":{"field":"v","type":"quantitative","scale":{"domain":[-20000,30000]},"axis":{"title":"Count","values":[-20000,-10000,0,10000,20000,30000],"format":"d","labelFontSize":5.5,"titleFontSize":6.5,"tickSize":2.5,"domainWidth":1.3,"titlePadding":6,"labelPadding":1.5,"minExtent":0}},
"color":{"field":"c","type":"nominal","scale":{"domain":["T","T+LPS","T+N","T+N+LPS"],"range":["#0a0aff","#ff0a0a","#08788a","#ff8585"]},"legend":null}}},
{"transform":[{"filter":"datum.e != null"}],"mark":{"type":"rule","strokeWidth":1.2},
"encoding":{"x":{"field":"c","type":"nominal","sort":["T","T+LPS","T+N","T+N+LPS"]},"y":{"field":"v","type":"quantitative"},"y2":{"field":"e"},"color":{"field":"c","type":"nominal"}}},
{"transform":[{"filter":"datum.e != null"}],"mark":{"type":"tick","size":9,"thickness":1.2,"opacity":1},
"encoding":{"x":{"field":"c","type":"nominal","sort":["T","T+LPS","T+N","T+N+LPS"]},"y":{"field":"e","type":"quantitative"},"color":{"field":"c","type":"nominal"}}},
{"mark":{"type":"rule","strokeWidth":1.5,"color":"#000"},"encoding":{"y":{"datum":0}}},
{"transform":[{"filter":"datum.s != null"}],"mark":{"type":"text","fontSize":7,"color":"#333"},
"encoding":{"x":{"field":"c","type":"nominal","sort":["T","T+LPS","T+N","T+N+LPS"]},"y":{"field":"sy","type":"quantitative"},"text":{"field":"s"}}}
]}
]
}
]}
]}
]}
]}
],
"config":{
"font":"Liberation Sans",
"view":{"stroke":null},
"axis":{"grid":false,"domainColor":"#000","tickColor":"#000","labelColor":"#111","titleColor":"#111","titleFontWeight":"normal"},
"title":{"color":"#000","fontWeight":"bold"},
"legend":{"labelColor":"#111"}
}
}
